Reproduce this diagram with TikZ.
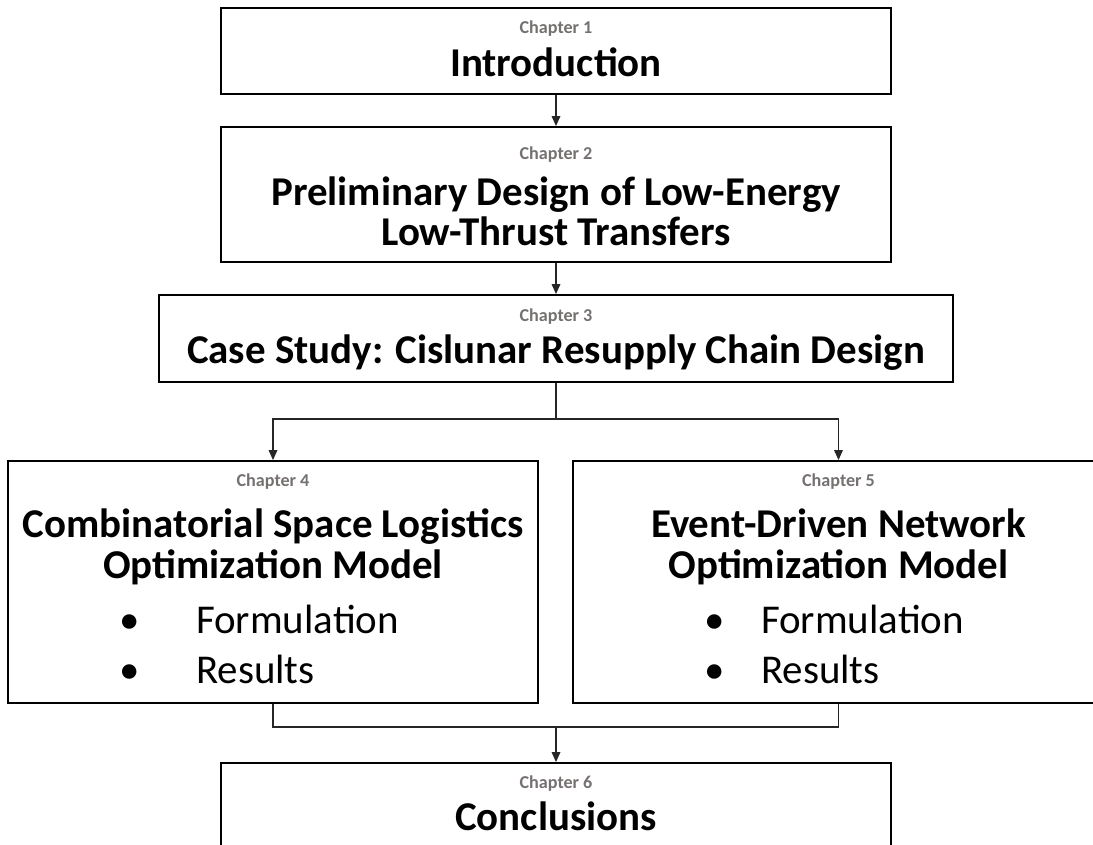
\documentclass[tikz,border=0pt]{standalone}
\usepackage{fontspec}
\setmainfont{Carlito}
\usetikzlibrary{arrows.meta}
\definecolor{chapgray}{HTML}{767171}
\definecolor{lnk}{HTML}{262626}

\begin{document}
\begin{tikzpicture}[x=0.75pt,y=-0.75pt,line width=1.0pt,>={Triangle[length=7.5pt,width=6.5pt]},
  chbox/.style={draw,line width=1.4pt,rectangle,inner sep=0pt},
  chap/.style={anchor=base,text=chapgray,font=\fontsize{13.6}{16}\selectfont\bfseries},
  ttl/.style={anchor=base,font=\fontsize{30.7}{34}\selectfont\bfseries},
  itm/.style={anchor=base west,font=\fontsize{30.7}{36}\selectfont},
  blt/.style={anchor=base,font=\fontsize{30.7}{36}\selectfont},
  conn/.style={draw=lnk,line width=0.9pt}]
\useasboundingbox (0,0) rectangle (1093,845);
% chapter boxes
\foreach \n/\x/\y/\w/\h in {1/556/51/670/86,2/556/194.5/670/135,3/556/338.5/794/87,4/273/582/530/242,5/838.5/582/531/242,6/556/806/670/86}
  {\node[chbox,minimum width=\w*0.75pt,minimum height=\h*0.75pt] (ch\n) at (\x,\y) {};}
\foreach \n/\x/\y in {1/556/34,2/556/160,3/556/321,4/273/486,5/838.5/486,6/556/788}
  {\node[chap] (c\n) at (\x,\y) {Chapter \n};}
% titles
\node[ttl] (t1) at (556,77) {Introduction};
\node[ttl] (t2a) at (556,206) {Preliminary Design of Low-Energy};
\node[ttl] (t2b) at (556,246) {Low-Thrust Transfers};
\node[ttl] (t3) at (556,363) {Case Study: Cislunar Resupply Chain Design};
\node[ttl] (t4a) at (273,537) {Combinatorial Space Logistics};
\node[ttl] (t4b) at (273,578) {Optimization Model};
\node[ttl] (t5a) at (838.5,537) {Event-Driven Network};
\node[ttl] (t5b) at (838.5,578) {Optimization Model};
\node[ttl] (t6) at (556,830) {Conclusions};
% bullet lists
\foreach \b/\t/\k in {130/191/4,715/756/5}{
  \node[blt] (b\k a) at (\b,633) {\textbullet};
  \node[itm] (i\k a) at (\t,633) {Formulation};
  \node[blt] (b\k b) at (\b,683) {\textbullet};
  \node[itm] (i\k b) at (\t,683) {Results};}
% connectors
\coordinate (fork) at (556,419);
\coordinate (join) at (556,727);
\draw[conn,->] (ch1.south) -- (ch2.north);
\draw[conn,->] (ch2.south) -- (ch3.north);
\draw[conn,->] (ch3.south) -- (fork) -| (ch4.north);
\draw[conn,->] (fork) -| (ch5.north);
\draw[conn] (ch4.south) |- (join) -| (ch5.south);
\draw[conn,->] (join) -- (ch6.north);
\end{tikzpicture}
\end{document}
